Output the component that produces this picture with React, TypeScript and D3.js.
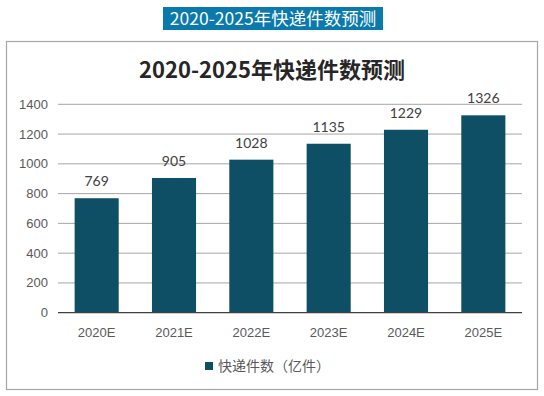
import { scaleBand, scaleLinear } from "d3";

const years = ["2020E", "2021E", "2022E", "2023E", "2024E", "2025E"];
const parcels = [769, 905, 1028, 1135, 1229, 1326];
const yTicks = [0, 200, 400, 600, 800, 1000, 1200, 1400];

const W = 544;
const H = 396;
const plot = { left: 58, right: 522, top: 104.3, bottom: 312.7 };
const barColor = "#0f4f66";
const cjk = "'Noto Sans CJK SC', 'Noto Sans', sans-serif";

export default function App() {
  const x = scaleBand()
    .domain(years)
    .range([plot.left, plot.right])
    .paddingInner(0.43)
    .paddingOuter(0.215);
  const y = scaleLinear().domain([0, 1400]).range([plot.bottom, plot.top]);

  return (
    <svg
      width={W}
      height={H}
      style={{ position: "absolute", left: 0, top: 0, background: "#fff" }}
    >
      {/* blue header caption */}
      <rect x={163} y={7} width={220} height={23} fill="#0a7aac" />
      <text
        x={273}
        y={25}
        textAnchor="middle"
        fontFamily={cjk}
        fontSize={17.5}
        fill="#fff"
      >
        2020-2025年快递件数预测
      </text>

      {/* chart frame */}
      <rect x={6.5} y={41.5} width={531} height={348} fill="#fff" stroke="#a6a6a6" strokeWidth={1.2} />

      <text
        x={272}
        y={78}
        textAnchor="middle"
        fontFamily={cjk}
        fontWeight="bold"
        fontSize={22}
        fill="#262626"
      >
        2020-2025年快递件数预测
      </text>

      {/* gridlines + y labels */}
      {yTicks.map((t) => (
        <g key={t}>
          {t !== 0 && (
            <line x1={plot.left} x2={plot.right} y1={y(t)} y2={y(t)} stroke="#a6a6a6" strokeWidth={1} />
          )}
          <text
            x={48}
            y={y(t) + 4.5}
            textAnchor="end"
            fontFamily="'Liberation Sans', Arial, sans-serif"
            fontSize={13}
            fill="#595959"
          >
            {t}
          </text>
        </g>
      ))}

      {/* bars */}
      {years.map((yr, i) => (
        <g key={yr}>
          <rect
            x={x(yr)}
            y={y(parcels[i])}
            width={x.bandwidth()}
            height={plot.bottom - y(parcels[i])}
            fill={barColor}
          />
          <text
            x={x(yr)! + x.bandwidth() / 2}
            y={y(parcels[i]) - 12}
            textAnchor="middle"
            fontFamily="Lato, 'Open Sans', sans-serif"
            fontSize={14}
            fill="#404040"
          >
            {parcels[i]}
          </text>
          <text
            x={x(yr)! + x.bandwidth() / 2}
            y={337}
            textAnchor="middle"
            fontFamily="'Liberation Sans', Arial, sans-serif"
            fontSize={13}
            fill="#595959"
          >
            {yr}
          </text>
        </g>
      ))}

      {/* x axis line */}
      <line x1={plot.left} x2={plot.right} y1={plot.bottom} y2={plot.bottom} stroke="#404040" strokeWidth={1.2} />

      {/* legend */}
      <rect x={205} y={362} width={8} height={8} fill={barColor} />
      <text x={218} y={371} fontFamily={cjk} fontSize={14} fill="#595959">
        快递件数（亿件）
      </text>
    </svg>
  );
}
